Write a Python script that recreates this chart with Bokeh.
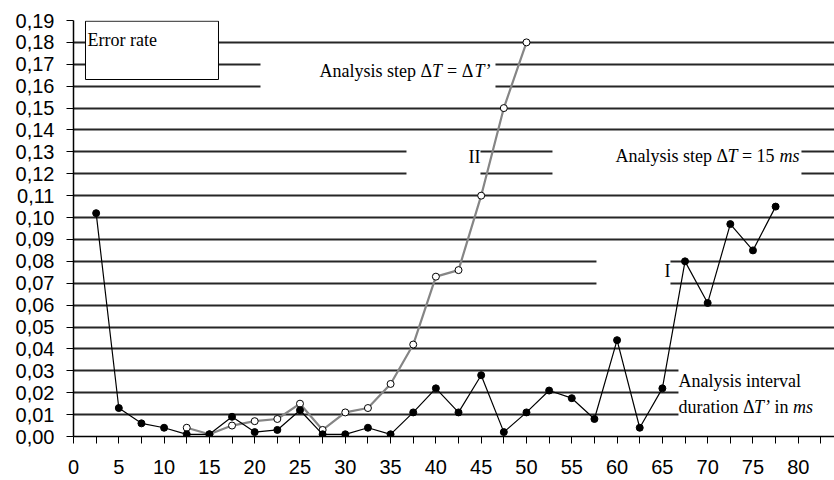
from bokeh.plotting import figure
from bokeh.models import FixedTicker, Label
from bokeh.embed import file_html
from bokeh.resources import INLINE

# ---------------- data ----------------
# Series I: analysis step dT = 15 ms (filled markers)
dt_I = [2.5, 5, 7.5, 10, 12.5, 15, 17.5, 20, 22.5, 25, 27.5, 30, 32.5, 35, 37.5,
        40, 42.5, 45, 47.5, 50, 52.5, 55, 57.5, 60, 62.5, 65, 67.5, 70, 72.5, 75, 77.5]
err_I = [0.102, 0.013, 0.006, 0.004, 0.001, 0.001, 0.009, 0.002, 0.003, 0.012, 0.001,
         0.001, 0.004, 0.001, 0.011, 0.022, 0.011, 0.028, 0.002, 0.011, 0.021, 0.0175,
         0.008, 0.044, 0.004, 0.022, 0.080, 0.061, 0.097, 0.085, 0.105]

# Series II: analysis step dT = dT' (open markers)
dt_II = [12.5, 15, 17.5, 20, 22.5, 25, 27.5, 30, 32.5, 35, 37.5, 40, 42.5, 45, 47.5, 50]
err_II = [0.004, 0.001, 0.005, 0.007, 0.008, 0.015, 0.003, 0.011, 0.013, 0.024,
          0.042, 0.073, 0.076, 0.110, 0.150, 0.180]

x_ticks = [0, 5, 10, 15, 20, 25, 30, 35, 40, 45, 50, 55, 60, 65, 70, 75, 80]
x_minor_ticks = [2.5, 7.5, 12.5, 17.5, 22.5, 27.5, 32.5, 37.5, 42.5, 47.5, 52.5,
                 57.5, 62.5, 67.5, 72.5, 77.5, 82.5]
y_ticks = [0.0, 0.01, 0.02, 0.03, 0.04, 0.05, 0.06, 0.07, 0.08, 0.09, 0.1,
           0.11, 0.12, 0.13, 0.14, 0.15, 0.16, 0.17, 0.18, 0.19]
y_tick_labels = ["0,00", "0,01", "0,02", "0,03", "0,04", "0,05", "0,06", "0,07",
                 "0,08", "0,09", "0,10", "0,11", "0,12", "0,13", "0,14", "0,15",
                 "0,16", "0,17", "0,18", "0,19"]

# ---------------- figure ----------------
p = figure(width=834, height=480, x_range=(0, 84.0), y_range=(0, 0.19),
           output_backend="svg", toolbar_location=None,
           min_border_left=73, min_border_right=0, min_border_top=20, min_border_bottom=44)
p.outline_line_color = None
p.background_fill_color = "white"
p.border_fill_color = "white"

p.xgrid.visible = False
p.ygrid.grid_line_color = "#262626"
p.ygrid.grid_line_width = 2

p.xaxis.ticker = FixedTicker(ticks=x_ticks, minor_ticks=x_minor_ticks)
p.yaxis.ticker = FixedTicker(ticks=y_ticks)
p.yaxis.major_label_overrides = dict(zip(y_ticks, y_tick_labels))

for ax in (p.xaxis[0], p.yaxis[0]):
    ax.axis_line_color = "black"
    ax.axis_line_width = 1.5
    ax.major_tick_line_color = "black"
    ax.minor_tick_line_color = "black"
    ax.major_tick_out = 7
    ax.major_tick_in = 0
    ax.minor_tick_out = 7
    ax.minor_tick_in = 0
    ax.major_label_text_font = "Liberation Sans"
    ax.major_label_text_font_size = "20px"
    ax.major_label_text_color = "black"
p.yaxis.minor_tick_line_color = None
p.yaxis.major_label_standoff = 12
p.xaxis.major_label_standoff = 16


def dx(px):
    return (px - 73) / 9.06


def dy(py):
    return (436 - py) / 2189.5


# white label boxes that interrupt the grid lines
p.quad(left=[dx(85)], right=[dx(218)], bottom=[dy(79)], top=[0.1897],
       fill_color="white", line_color="black", line_width=1)
p.quad(left=[dx(260), dx(406), dx(552), dx(596), dx(678)],
       right=[dx(495), dx(480), dx(801), dx(670), 86],
       bottom=[0.155, 0.115, 0.115, 0.065, 0.005],
       top=[0.175, 0.135, 0.135, 0.085, 0.035],
       fill_color="white", line_color=None)

# series
p.line(dt_II, err_II, line_color="#858585", line_width=2.2)
p.scatter(dt_II, err_II, size=7, fill_color="white", line_color="black", line_width=1)
p.line(dt_I, err_I, line_color="black", line_width=1.2)
p.scatter(dt_I, err_I, size=7, fill_color="black", line_color="black")

SERIF = "Liberation Serif"
NB = "\u00a0"


def lab(px, py, txt, italic=False, align="left"):
    p.add_layout(Label(x=dx(px), y=dy(py), text=txt, text_font=SERIF,
                       text_font_size="18px", text_color="black",
                       text_font_style="italic" if italic else "normal",
                       text_baseline="alphabetic", text_align=align))


lab(87, 39.5, "Error rate")

# Analysis step dT = dT'
b = 70
lab(319, b, "Analysis step \u0394")
lab(431.5, b, "T", True)
lab(442, b, NB + "=" + NB + "\u0394")
lab(474, b, "T\u2019", True)

lab(480, 156.5, "II", align="right")

# Analysis step dT = 15 ms
b = 155
lab(615, b, "Analysis step \u0394")
lab(727, b, "T", True)
lab(737, b, NB + "=" + NB + "15" + NB)
lab(779, b, "ms", True)

lab(670, 270.5, "I", align="right")

# Analysis interval duration dT' in ms
lab(678, 380.5, "Analysis interval")
b = 406
lab(678, b, "duration \u0394")
lab(753.5, b, "T\u2019", True)
lab(769.5, b, NB + "in" + NB)
lab(792.5, b, "ms", True)

open("out.html", "w").write(file_html(p, INLINE))
